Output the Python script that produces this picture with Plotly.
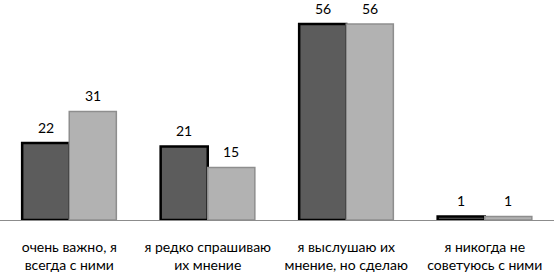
import plotly.graph_objects as go

categories = [
    "очень важно, я<br>всегда с ними",
    "я редко спрашиваю<br>их мнение",
    "я выслушаю их<br>мнение, но сделаю",
    "я никогда не<br>советуюсь с ними",
]
series_a = [22, 21, 56, 1]
series_b = [31, 15, 56, 1]
series_names = ["Ряд 1", "Ряд 2"]

FONT = "Lato"

fig = go.Figure()
fig.add_trace(go.Bar(
    x=categories, y=series_a, name=series_names[0],
    marker=dict(color="#5c5c5c", line=dict(color="#000000", width=2.5)),
))
fig.add_trace(go.Bar(
    x=categories, y=series_b, name=series_names[1],
    marker=dict(color="#b2b2b2", line=dict(color="#8e8e8e", width=1.5)),
))

for vals, shift in ((series_a, -23.5), (series_b, 23.5)):
    for c, v in zip(categories, vals):
        fig.add_annotation(
            x=c, y=v, xref="x", yref="y", text=str(v), showarrow=False,
            xshift=shift, yshift=16, font=dict(family=FONT, size=14, color="#000000"),
        )

fig.update_layout(
    width=554, height=273,
    margin=dict(l=0, r=0, t=0, b=53, autoexpand=False),
    paper_bgcolor="white", plot_bgcolor="white",
    barmode="group", bargap=0.32, bargroupgap=0.0,
    showlegend=False,
    font=dict(family=FONT, size=14, color="#000000"),
)
fig.update_xaxes(
    showline=True, linecolor="#8c8c8c", linewidth=1, automargin=False,
    showgrid=False, ticks="", tickfont=dict(family=FONT, size=14, color="#000000"),
    ticklabelstandoff=14,
)
fig.update_yaxes(
    range=[0, 62.86], showgrid=False, showticklabels=False, zeroline=False,
    showline=False, ticks="", automargin=False,
)

fig.write_html(
    "out.html",
    config={"displayModeBar": False},
    post_script="document.body.style.margin='0';document.body.style.overflow='hidden';",
)
